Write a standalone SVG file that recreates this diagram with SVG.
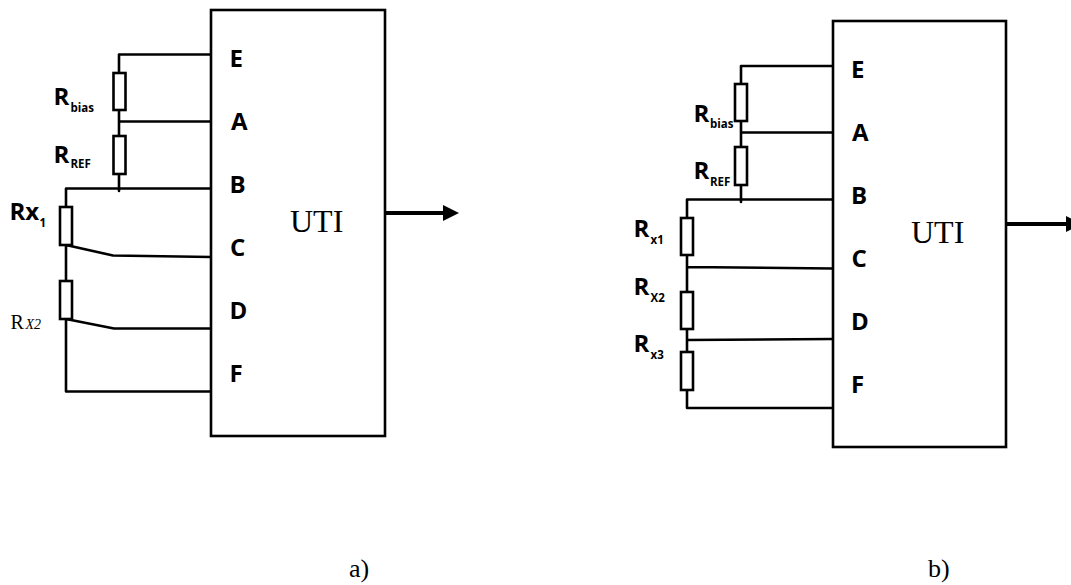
<svg xmlns="http://www.w3.org/2000/svg" width="1071" height="585" viewBox="0 0 1071 585">
<style>
.w{fill:none;stroke:#000;stroke-width:2.600;stroke-linejoin:round;stroke-linecap:round}
.r{fill:#fff;stroke:#000;stroke-width:2.600}
.box{fill:#fff;stroke:#000;stroke-width:2.600}
.ar{fill:none;stroke:#000;stroke-width:4.200}
.p{font:bold 24px "Open Sans","Liberation Sans",sans-serif;fill:#000}
.l{font:bold 24px "Open Sans","Liberation Sans",sans-serif;fill:#000}
.s{font:bold 11.500px "Open Sans","Liberation Sans",sans-serif;fill:#000}
.u{font:32px "Liberation Serif",serif;fill:#000}
.c{font:26px "Liberation Serif",serif;fill:#000}
</style>
<defs><marker id="a" markerWidth="16" markerHeight="16" refX="0" refY="8" orient="auto" markerUnits="userSpaceOnUse"><path d="M0 0L16 8L0 16z" fill="#000"/></marker></defs>
<g id="connectors">
<path class="w" d="M211 54.500H119V73M119 110V136M119 121.500H211M119 174V191M66 207V188.500H211M66 245V281M66 245L113 255.500L211 257M66 319L114 328.500H211M66 319V391.500H211"/>
<path class="w" d="M833 66H741V84M741 121V147M741 132.500H833M741 185V202M687 218V199.500H833M687 255V292M687 267L833 268.500M687 329V352M687 340L833 339M687 390V408H833"/>
<path class="ar" d="M385 213H443" marker-end="url(#a)"/>
<path class="ar" d="M1006 224H1066" marker-end="url(#a)"/>
</g>
<g id="uti-a"><rect class="box" x="211" y="10" width="174" height="426"/><text class="u" x="290" y="232">UTI</text>
<text class="p" x="229.500" y="66.500">E</text><text class="p" x="231" y="130">A</text><text class="p" x="229.500" y="192.500">B</text><text class="p" x="230" y="256">C</text><text class="p" x="229.500" y="318.500">D</text><text class="p" x="229.500" y="382">F</text></g>
<g id="uti-b"><rect class="box" x="833" y="21" width="173" height="426"/><text class="u" x="911" y="243">UTI</text>
<text class="p" x="851" y="77.500">E</text><text class="p" x="852" y="141">A</text><text class="p" x="851" y="203.500">B</text><text class="p" x="851.500" y="267">C</text><text class="p" x="851" y="329.500">D</text><text class="p" x="851" y="393">F</text></g>
<g id="rbias-a"><rect class="r" x="113.500" y="73" width="12" height="37"/><text class="l" x="53.500" y="105">R<tspan class="s" x="70.500" y="111.500">bias</tspan></text></g>
<g id="rref-a"><rect class="r" x="113.500" y="136" width="12" height="38"/><text class="l" x="53.500" y="163">R<tspan class="s" x="70.500" y="168">REF</tspan></text></g>
<g id="rx1-a"><rect class="r" x="60" y="207" width="12" height="38"/><text class="l" x="9.500" y="220">Rx<tspan class="s" x="39.500" y="226.500">1</tspan></text></g>
<g id="rx2-a"><rect class="r" x="60" y="281" width="12" height="38"/><text x="10.500" y="329" style="font:20px 'Liberation Serif',serif">R<tspan style="font-size:14px;font-style:italic" x="25.500">X2</tspan></text></g>
<g id="rbias-b"><rect class="r" x="735" y="84" width="12" height="37"/><text class="l" x="693.500" y="121.500">R<tspan class="s" x="710" y="128">bias</tspan></text></g>
<g id="rref-b"><rect class="r" x="735" y="147" width="12" height="38"/><text class="l" x="693.500" y="179">R<tspan class="s" x="710" y="185.500">REF</tspan></text></g>
<g id="rx1-b"><rect class="r" x="681" y="218" width="12" height="37"/><text class="l" x="633.500" y="236.500">R<tspan class="s" x="650.500" y="244">x1</tspan></text></g>
<g id="rx2-b"><rect class="r" x="681" y="292" width="12" height="37"/><text class="l" x="633.500" y="295">R<tspan class="s" x="650.500" y="301.500">X2</tspan></text></g>
<g id="rx3-b"><rect class="r" x="681" y="352" width="12" height="38"/><text class="l" x="633.500" y="351.500">R<tspan class="s" x="650.500" y="359">x3</tspan></text></g>
<text class="c" x="349" y="577">a)</text>
<text class="c" x="928" y="577">b)</text>
</svg>
